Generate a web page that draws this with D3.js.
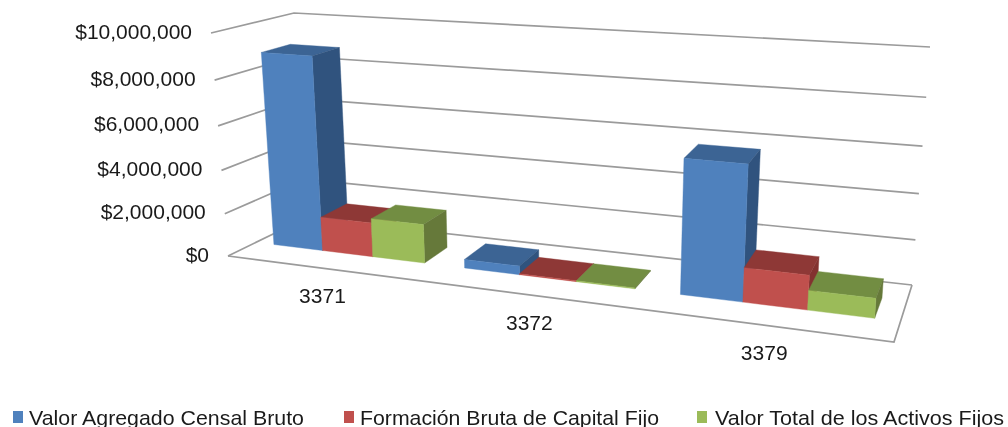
<!DOCTYPE html>
<html><head><meta charset="utf-8">
<script src="https://d3js.org/d3.v7.min.js"></script>
<style>html,body{margin:0;padding:0;background:#fff}svg{display:block;filter:blur(0.5px)}text{font-family:"Liberation Sans",Arial,sans-serif;fill:#1a1a1a}</style>
</head><body><div id="chart"></div>
<script>
const categories = ["3371","3372","3379"];
const seriesNames = ["Valor Agregado Censal Bruto","Formación Bruta de Capital Fijo","Valor Total de los Activos Fijos"];
const valorAgregado = [8900000,400000,5850000];
const formacionBruta = [1600000,40000,1500000];
const activosFijos = [1800000,40000,850000];
const seriesValues = [valorAgregado,formacionBruta,activosFijos];

const faceColors = [
  {front:"#4f81bd",top:"#3c6494",side:"#30537e"},
  {front:"#c0504d",top:"#8e3836",side:"#833230"},
  {front:"#9bbb59",top:"#728d42",side:"#66793a"}
];
const W=1008,H=427;
const svg=d3.select("#chart").append("svg").attr("width",W).attr("height",H);

// Plot box corners in screen space: c[u][depth][value]
const c={ '000':[228,256],'001':[211,33],'010':[306,218],'011':[294,13],
          '100':[894,342],'101':[911,83],'110':[912,285],'111':[930,47] };
const warp=k=>t=>t/(t+k*(1-t));
const warpX=warp(1.21), warpY=warp(1.07);
const lerp=d3.interpolateNumber;
function project(t,d,value){
  const u=warpX(t), v=warpY(yScale(value));
  const out=[0,1].map(i=>{
    const a=lerp(lerp(c['000'][i],c['001'][i])(v),lerp(c['010'][i],c['011'][i])(v))(d);
    const b=lerp(lerp(c['100'][i],c['101'][i])(v),lerp(c['110'][i],c['111'][i])(v))(d);
    return lerp(a,b)(u);
  });
  return out;
}
const yScale=d3.scaleLinear().domain([0,10000000]).range([0,1]);
const xBand=d3.scaleBand().domain(categories).range([0,1]).paddingInner(0.2).paddingOuter(0.1);
const seriesBand=d3.scaleBand().domain(d3.range(seriesNames.length)).range([0,xBand.bandwidth()]);
const depthScale=d3.scaleLinear().domain([0,1]).range([0.36,0.72]);
const yFormat=d3.format("$,");
const line=d3.line();
const gridColor="#9b9b9b";

// Gridlines: side wall + back wall
const ticks=yScale.ticks(5);
const grid=svg.append("g").attr("fill","none").attr("stroke",gridColor).attr("stroke-width",1.7);
ticks.forEach(v=>{
  grid.append("path").attr("d",line([project(0,0,v),project(0,1,v),project(1,1,v)]));
});
// Floor outline
grid.append("path").attr("d",line([project(0,0,0),project(1,0,0),project(1,1,0)]));

// Axis labels
const axisG=svg.append("g").attr("font-size",21);
function label(g,text,x,y,anchor){
  return g.append("text").attr("x",x).attr("y",y).attr("text-anchor",anchor).text(text);
}
ticks.forEach(v=>{
  const p=project(0,0,v);
  label(axisG,yFormat(v),p[0]-19,p[1]+5.5,"end");
});

// Bars
const barsG=svg.append("g");
function poly(pts,fill){
  barsG.append("polygon").attr("points",pts.map(p=>p.join(",")).join(" ")).attr("fill",fill).attr("stroke",fill).attr("stroke-width",0.4);
}
categories.forEach((cat,ci)=>{
  seriesNames.forEach((s,si)=>{
    const val=seriesValues[si][ci], col=faceColors[si];
    const t0=xBand(cat)+seriesBand(si), t1=t0+seriesBand.bandwidth();
    const d0=depthScale(0), d1=depthScale(1);
    poly([project(t0,d0,val),project(t1,d0,val),project(t1,d1,val),project(t0,d1,val)],col.top);
    poly([project(t1,d0,0),project(t1,d1,0),project(t1,d1,val),project(t1,d0,val)],col.side);
    poly([project(t0,d0,0),project(t1,d0,0),project(t1,d0,val),project(t0,d0,val)],col.front);
  });
});

// Category labels
const catG=svg.append("g").attr("font-size",21);
categories.forEach(cat=>{
  const p=project(xBand(cat)+xBand.bandwidth()/2,0,0);
  label(catG,cat,p[0],p[1]+35,"middle");
});

// Legend
const legendX=[{m:13,t:29,e:304},{m:344,t:360,e:659},{m:697,t:715,e:1004}];
const legendG=svg.append("g").attr("font-size",21);
seriesNames.forEach((s,i)=>{
  const l=legendX[i];
  legendG.append("rect").attr("x",l.m).attr("y",411).attr("width",10).attr("height",12).attr("fill",faceColors[i].front);
  legendG.append("text").attr("x",l.t).attr("y",424.5).attr("textLength",l.e-l.t).attr("lengthAdjust","spacingAndGlyphs").text(s);
});
</script></body></html>
